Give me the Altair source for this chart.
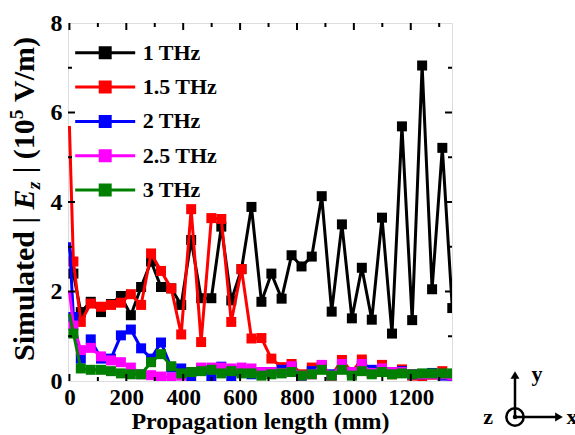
import altair as alt
import pandas as pd

# ---------------- data ----------------
x_mm = [0, 14, 40, 75, 111, 146, 181, 216, 252, 287, 322, 358, 393, 428, 463, 499,
        534, 569, 605, 640, 675, 710, 746, 781, 816, 852, 887, 922, 958, 993, 1028,
        1063, 1099, 1134, 1169, 1205, 1240, 1275, 1311, 1346]

ez_1thz = [3.0, 2.4, 1.54, 1.77, 1.54, 1.72, 1.90, 1.47, 2.1, 2.67, 2.1, 2.07, 1.7, 3.15,
           1.85, 1.85, 3.45, 1.8, 2.5, 3.89, 1.77, 2.40, 1.84, 2.81, 2.56, 2.78, 4.13, 1.55,
           3.5, 1.40, 2.53, 1.37, 3.65, 1.06, 5.69, 1.36, 7.05, 2.05, 5.21, 1.63]
ez_1p5thz = [5.7, 2.67, 1.32, 1.73, 1.66, 1.7, 1.75, 1.94, 1.7, 2.85, 2.46, 2.07, 1.04, 3.84,
             0.87, 3.64, 3.62, 1.32, 2.5, 0.95, 0.96, 0.5, 0.31, 0.38, 0.15, 0.3, 0.35, 0.12,
             0.47, 0.2, 0.48, 0.18, 0.36, 0.15, 0.26, 0.12, 0.1, 0.14, 0.22, 0.12]
ez_2thz = [3.1, 1.43, 0.5, 0.93, 0.5, 0.5, 1.02, 1.15, 0.73, 0.5, 0.86, 0.3, 0.28, 0.05,
           0.25, 0.1, 0.32, 0.05, 0.25, 0.15, 0.2, 0.2, 0.25, 0.3, 0.05, 0.22, 0.3, 0.15,
           0.34, 0.2, 0.34, 0.25, 0.26, 0.2, 0.22, 0.15, 0.15, 0.18, 0.12, 0.1]
ez_2p5thz = [2.0, 1.24, 0.69, 0.74, 0.55, 0.46, 0.42, 0.3, 0.15, 0.13, 0.1, 0.08, 0.12, 0.2,
             0.3, 0.3, 0.3, 0.28, 0.3, 0.28, 0.2, 0.2, 0.18, 0.33, 0.12, 0.15, 0.36, 0.12,
             0.38, 0.2, 0.38, 0.18, 0.28, 0.2, 0.2, 0.15, 0.15, 0.15, 0.15, 0.12]
ez_3thz = [1.5, 1.06, 0.28, 0.25, 0.25, 0.22, 0.17, 0.15, 0.15, 0.42, 0.6, 0.33, 0.17, 0.2,
           0.22, 0.25, 0.17, 0.22, 0.17, 0.17, 0.12, 0.15, 0.17, 0.2, 0.12, 0.15, 0.25, 0.12,
           0.25, 0.12, 0.22, 0.15, 0.2, 0.15, 0.17, 0.15, 0.17, 0.17, 0.17, 0.17]

series_names = ["1 THz", "1.5 THz", "2 THz", "2.5 THz", "3 THz"]
series_colors = ["#000000", "#ff0000", "#0000ff", "#ff00ff", "#008000"]
series_values = [ez_1thz, ez_1p5thz, ez_2thz, ez_2p5thz, ez_3thz]

x_major = [0, 200, 400, 600, 800, 1000, 1200]
x_minor = [100, 300, 500, 700, 900, 1100, 1300]
y_major = [2, 4, 6]
y_minor = [1, 3, 5, 7]

rows = []
for name, vals in zip(series_names, series_values):
    for i, (xv, v) in enumerate(zip(x_mm, vals)):
        rows.append({"x": xv, "E": v, "series": name, "order": i})
df = pd.DataFrame(rows)

# ---------------- layout / style ----------------
FONT = "Liberation Serif"
PAD_L, PAD_T = 68, 23
W, H = 384, 358
PAD_R, PAD_B = 575 - PAD_L - W, 435 - PAD_T - H

xscale = alt.Scale(domain=[-5, 1345], nice=False, zero=False)
yscale = alt.Scale(domain=[0, 8], nice=False, zero=False)
cscale = alt.Scale(domain=series_names, range=series_colors)

SYMBOL = "M-3,0H3M-0.5,-0.5H0.5V0.5H-0.5Z"
legend = alt.Legend(
    title=None, orient="none", legendX=25.7, legendY=18.3, padding=0,
    symbolType=SYMBOL, symbolSize=400, symbolStrokeWidth=3, symbolOpacity=1,
    labelFont=FONT, labelFontSize=22, labelFontWeight="bold", labelColor="black",
    labelOffset=26, rowPadding=11.3, labelLimit=300,
)

main_x_axis = alt.Axis(values=x_major, format="d", title="Propagation length (mm)",
                       tickSize=0, domain=False, grid=False, labelFlush=False,
                       labelOverlap=False, labelFont=FONT, labelFontSize=23,
                       labelFontWeight="bold", labelColor="black", labelPadding=5,
                       titleFont=FONT, titleFontSize=24, titleFontWeight="bold",
                       titleColor="black", titlePadding=0)
main_y_axis = alt.Axis(values=[0] + y_major + [8], format="d", title=None, tickSize=0,
                       domain=False, grid=False, labelFont=FONT, labelFontSize=24,
                       labelFontWeight="bold", labelColor="black", labelPadding=6,
                       labelFlush=False, labelOverlap=False)

layers = []
for k, name in enumerate(series_names):
    base = alt.Chart(df).transform_filter(alt.datum.series == name)
    enc_line = dict(
        x=alt.X("x:Q", scale=xscale, axis=main_x_axis if k == 0 else None),
        y=alt.Y("E:Q", scale=yscale, axis=main_y_axis if k == 0 else None),
        color=alt.Color("series:N", scale=cscale, legend=legend),
        order="order:Q",
    )
    enc_pt = dict(
        x=alt.X("x:Q", scale=xscale, axis=None),
        y=alt.Y("E:Q", scale=yscale, axis=None),
        color=alt.Color("series:N", scale=cscale, legend=legend),
    )
    layers.append(base.mark_line(strokeWidth=3, clip=True).encode(**enc_line))
    # the marker of the first sample sits hidden under the left axis in the reference
    layers.append(base.transform_filter(alt.datum.order > 0).mark_point(
        shape="square", filled=True, size=100, opacity=1, clip=True).encode(**enc_pt))

# ---------------- inward ticks on all four sides ----------------
MAJ, MIN = 7, 4
for vals, length in [(x_major, MAJ), (x_minor, MIN)]:
    tdf = pd.DataFrame({"t": vals})
    for y0, y1 in [(H, H - length), (0, length)]:
        layers.append(alt.Chart(tdf).mark_rule(color="black", strokeWidth=2).encode(
            x=alt.X("t:Q", scale=xscale, axis=None),
            y=alt.value(y0), y2=alt.value(y1)))
for vals, length in [(y_major, MAJ), (y_minor, MIN)]:
    tdf = pd.DataFrame({"t": vals})
    for x0, x1 in [(0, length), (W, W - length)]:
        layers.append(alt.Chart(tdf).mark_rule(color="black", strokeWidth=2).encode(
            y=alt.Y("t:Q", scale=yscale, axis=None),
            x=alt.value(x0), x2=alt.value(x1)))

# ---------------- y-axis title built from pieces ----------------
TF = 30
SF = 19.5
SP = 0.25 * TF
# (text, font size, style, baseline shift, gap before, advance)
title_pieces = [
    ("Simulated |", TF, "normal", 0, 0, (4.334 + 0.25 + 0.22 + 0.25) * TF),
    ("E", TF, "italic", 0, 0, 0.667 * TF),
    ("z", SF, "italic", 6, 0, 0.389 * SF + 1),
    ("| (10", TF, "normal", 0, SP, (0.22 + 0.25 + 1.333) * TF),
    ("5", SF, "normal", -11, 0, 0.5 * SF),
    ("V/m)", TF, "normal", 0, SP, 2.166 * TF),
]
ypos = 361 - PAD_T
TITLE_X = 33.5 - PAD_L
for text, fs, style, shift, gap, adv in title_pieces:
    ypos -= gap
    layers.append(alt.Chart(pd.DataFrame({"t": [text]})).mark_text(
        font=FONT, fontSize=fs, fontWeight="bold", fontStyle=style, angle=270,
        align="left", baseline="alphabetic", color="black",
    ).encode(text="t:N", x=alt.value(TITLE_X + shift), y=alt.value(ypos)))
    ypos -= adv

# ---------------- coordinate glyph (bottom right) ----------------
gx, gy = 447, 394
glyph = pd.DataFrame({"a": [0]})
layers += [
    alt.Chart(glyph).mark_rule(color="black", strokeWidth=2.5).encode(
        x=alt.value(gx), x2=alt.value(gx), y=alt.value(gy), y2=alt.value(gy - 40)),
    alt.Chart(glyph).mark_rule(color="black", strokeWidth=2.5).encode(
        x=alt.value(gx), x2=alt.value(gx + 42), y=alt.value(gy), y2=alt.value(gy)),
    alt.Chart(glyph).mark_point(shape="triangle-up", filled=True, size=80, color="black",
                                opacity=1).encode(x=alt.value(gx), y=alt.value(gy - 42)),
    alt.Chart(glyph).mark_point(shape="triangle-right", filled=True, size=80, color="black",
                                opacity=1).encode(x=alt.value(gx + 44), y=alt.value(gy)),
    alt.Chart(glyph).mark_point(shape="circle", filled=False, size=300, color="black",
                                strokeWidth=2.5, opacity=1).encode(x=alt.value(gx), y=alt.value(gy)),
    alt.Chart(glyph).mark_point(shape="circle", filled=True, size=20, color="black",
                                opacity=1).encode(x=alt.value(gx), y=alt.value(gy)),
]
for txt, tx, ty in [("y", gx + 22, gy - 36), ("z", gx - 27, gy + 7), ("x", gx + 57, gy + 7)]:
    layers.append(alt.Chart(pd.DataFrame({"t": [txt]})).mark_text(
        font=FONT, fontSize=22, fontWeight="bold", color="black", align="center",
        baseline="alphabetic").encode(text="t:N", x=alt.value(tx), y=alt.value(ty)))

chart = alt.layer(*layers).resolve_axis(x="independent", y="independent").properties(
    width=W, height=H,
    autosize=alt.AutoSizeParams(type="none"),
    padding={"left": PAD_L, "top": PAD_T, "right": PAD_R, "bottom": PAD_B},
).configure_view(stroke="black", strokeWidth=3).configure(background="white")

chart.save("out.html", embed_options={"renderer": "svg", "actions": False})
